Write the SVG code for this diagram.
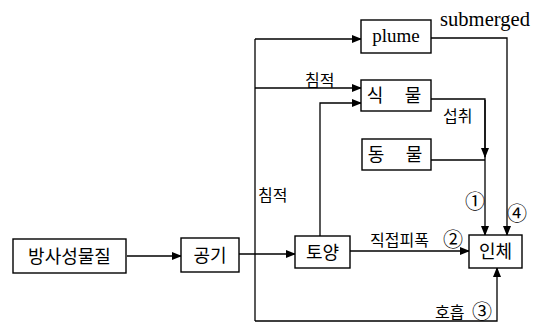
<svg xmlns="http://www.w3.org/2000/svg" width="539" height="327" viewBox="0 0 539 327">
<defs>
<marker id="ah" markerWidth="10" markerHeight="8" refX="9" refY="4" orient="auto" markerUnits="userSpaceOnUse">
<path d="M0,0 L10,4 L0,8 Z" fill="#000"/>
</marker>
<style>
.box{fill:#fff;stroke:#000;stroke-width:1.4}
.ln{fill:none;stroke:#000;stroke-width:1.3}
.ko{font-family:"Noto Sans CJK KR","Noto Sans",sans-serif;fill:#000}
.bx{font-size:18px}
.lb{font-size:16px}
.num{font-size:20px}
.en{font-family:"Liberation Serif",serif;fill:#000}
</style>
</defs>
<rect width="539" height="327" fill="#fff"/>
<g id="connectors">
<path class="ln" d="M127 256 H181" marker-end="url(#ah)"/>
<path class="ln" d="M239 254 H295" marker-end="url(#ah)"/>
<path class="ln" d="M255 39 V321"/>
<path class="ln" d="M255 39 H361" marker-end="url(#ah)"/>
<path class="ln" d="M255 88 H361" marker-end="url(#ah)"/>
<path class="ln" d="M320 236 V103 H361" marker-end="url(#ah)"/>
<path class="ln" d="M350 251 H469" marker-end="url(#ah)"/>
<path class="ln" d="M431 99 H485 V235" marker-end="url(#ah)"/>
<path class="ln" d="M485 100 V157" marker-end="url(#ah)"/>
<path class="ln" d="M431 160 H485"/>
<path class="ln" d="M431 38 H507 V235" marker-end="url(#ah)"/>
<path class="ln" d="M255 321 H497 V268" marker-end="url(#ah)"/>
</g>
<g id="n-radio">
<rect class="box" x="13" y="239" width="113" height="34"/>
<text class="ko bx" x="69.5" y="262.5" text-anchor="middle">방사성물질</text>
</g>
<g id="n-air">
<rect class="box" x="181" y="238" width="58" height="34"/>
<text class="ko bx" x="210" y="261.5" text-anchor="middle">공기</text>
</g>
<g id="n-soil">
<rect class="box" x="295" y="236" width="55" height="32"/>
<text class="ko bx" x="322.5" y="258.5" text-anchor="middle">토양</text>
</g>
<g id="n-human">
<rect class="box" x="469" y="235" width="53" height="33"/>
<text class="ko bx" x="495.5" y="258" text-anchor="middle">인체</text>
</g>
<g id="n-plume">
<rect class="box" x="361" y="20" width="70" height="33"/>
<text class="en" x="396" y="42" text-anchor="middle" font-size="19">plume</text>
</g>
<g id="n-plant">
<rect class="box" x="361" y="80" width="70" height="31"/>
<text class="ko bx" x="375" y="102" text-anchor="middle">식</text>
<text class="ko bx" x="413" y="102" text-anchor="middle">물</text>
</g>
<g id="n-animal">
<rect class="box" x="362" y="139" width="69" height="31"/>
<text class="ko bx" x="376" y="161" text-anchor="middle">동</text>
<text class="ko bx" x="414" y="161" text-anchor="middle">물</text>
</g>
<g id="labels">
<text class="en" x="440" y="26" font-size="20" textLength="90" lengthAdjust="spacingAndGlyphs">submerged</text>
<text class="ko lb" x="305" y="86">침적</text>
<text class="ko lb" x="258" y="201">침적</text>
<text class="ko lb" x="443" y="122">섭취</text>
<text class="ko num" x="465" y="209">①</text>
<text class="ko num" x="507" y="221">④</text>
<text class="ko lb" x="370" y="246">직접피폭</text>
<text class="ko num" x="443" y="247">②</text>
<text class="ko lb" x="435" y="318">호흡</text>
<text class="ko num" x="472" y="319">③</text>
</g>
</svg>
